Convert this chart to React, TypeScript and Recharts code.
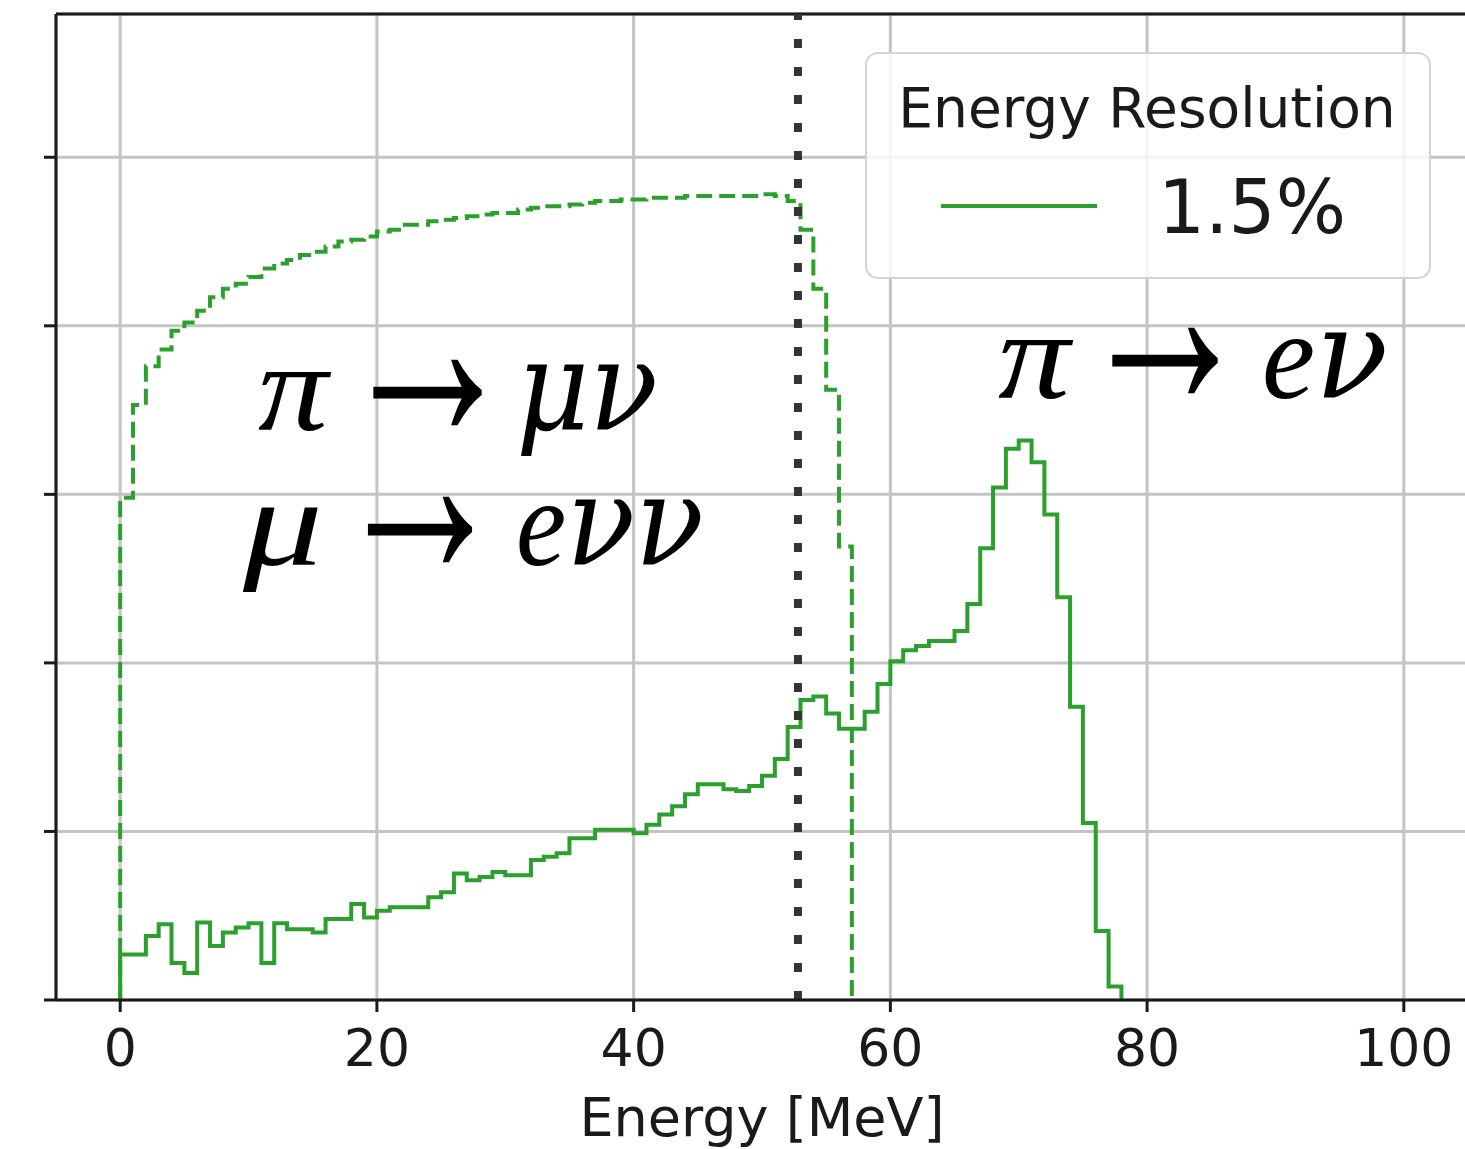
import { ComposedChart, Line, XAxis, YAxis, CartesianGrid, ReferenceLine } from 'recharts';

// Histogram bins: 1 MeV wide, starting at 0 MeV. Heights in (unlabelled) y-axis units.
const BIN_WIDTH = 1;

// pi -> e nu with 1.5% energy resolution (solid)
const PI_E_NU = [
  0.27, 0.27, 0.38, 0.45, 0.22, 0.16, 0.46, 0.32, 0.40, 0.43,
  0.455, 0.22, 0.455, 0.42, 0.42, 0.40, 0.48, 0.48, 0.57, 0.49,
  0.53, 0.55, 0.55, 0.55, 0.61, 0.64, 0.75, 0.71, 0.73, 0.76,
  0.74, 0.74, 0.83, 0.85, 0.87, 0.96, 0.96, 1.01, 1.01, 1.01,
  0.99, 1.04, 1.10, 1.15, 1.22, 1.28, 1.28, 1.25, 1.24, 1.27,
  1.33, 1.43, 1.62, 1.78, 1.80, 1.70, 1.61, 1.61, 1.71, 1.875,
  2.01, 2.075, 2.10, 2.13, 2.13, 2.19, 2.35, 2.68, 3.04, 3.27,
  3.32, 3.19, 2.88, 2.39, 1.74, 1.05, 0.41, 0.08,
];

// pi -> mu nu, mu -> e nu nu (dashed)
const PI_MU_NU = [
  2.98, 3.53, 3.76, 3.86, 3.97, 4.02, 4.09, 4.17, 4.22, 4.25,
  4.29, 4.34, 4.37, 4.39, 4.42, 4.44, 4.47, 4.50, 4.51, 4.53,
  4.56, 4.57, 4.60, 4.60, 4.62, 4.63, 4.64, 4.65, 4.66, 4.67,
  4.67, 4.69, 4.70, 4.71, 4.71, 4.72, 4.73, 4.74, 4.74, 4.75,
  4.75, 4.76, 4.76, 4.76, 4.77, 4.77, 4.77, 4.77, 4.77, 4.77,
  4.78, 4.77, 4.74, 4.57, 4.22, 3.62, 2.69,
];

const X_TICKS = [0, 20, 40, 60, 80, 100];
const Y_TICKS = [0, 1, 2, 3, 4, 5];
const X_DOMAIN: [number, number] = [-5, 105];
const Y_MAX = 5.85;
const MICHEL_EDGE = 52.8; // MeV, dotted marker

const GREEN = '#2ca02c';
const INK = '#1a1a1a';

// histogram outline: rise at the first edge, fall at the last edge
function toSteps(counts: number[]) {
  const pts = [{ e: 0, v: 0 }];
  counts.forEach((v, i) => pts.push({ e: i * BIN_WIDTH, v }));
  pts.push({ e: counts.length * BIN_WIDTH, v: 0 });
  return pts;
}

const solidSteps = toSteps(PI_E_NU);
const dashedSteps = toSteps(PI_MU_NU);

const SERIF = 'Liberation Serif';
const NU_FONT = 'DejaVu Serif';

export default function App() {
  return (
    <div style={{ position: 'absolute', left: 0, top: 0, width: 1465, height: 1149, overflow: 'hidden', background: '#fff' }}>
      <ComposedChart width={1470} height={1149} margin={{ top: 14, right: 2, bottom: 0, left: 0 }}>
        <CartesianGrid stroke="#c4c4c4" strokeWidth={3} />
        <XAxis
          dataKey="e"
          type="number"
          domain={X_DOMAIN}
          ticks={X_TICKS}
          allowDataOverflow
          height={149}
          tickSize={12}
          tickMargin={17}
          axisLine={{ stroke: INK, strokeWidth: 3 }}
          tickLine={{ stroke: INK, strokeWidth: 3 }}
          tick={{ fontSize: 52, fill: INK, fontFamily: 'DejaVu Sans' }}
        />
        <YAxis
          type="number"
          domain={[0, Y_MAX]}
          ticks={Y_TICKS}
          allowDataOverflow
          width={56}
          tickSize={12}
          tickFormatter={() => ''}
          axisLine={{ stroke: INK, strokeWidth: 3 }}
          tickLine={{ stroke: INK, strokeWidth: 3 }}
        />
        <ReferenceLine y={Y_MAX} stroke={INK} strokeWidth={3} />
        <Line data={dashedSteps} dataKey="v" type="stepAfter" stroke={GREEN} strokeWidth={4}
          strokeDasharray="16 7" dot={false} activeDot={false} isAnimationActive={false} />
        <Line data={solidSteps} dataKey="v" type="stepAfter" stroke={GREEN} strokeWidth={4}
          dot={false} activeDot={false} isAnimationActive={false} />
        <ReferenceLine x={MICHEL_EDGE} stroke="#333" strokeWidth={8} strokeDasharray="9 19" />
      </ComposedChart>

      <svg width={1465} height={1149} style={{ position: 'absolute', left: 0, top: 0, pointerEvents: 'none' }}>
        {/* legend */}
        <rect x={866} y={53} width={564} height={225} rx={12} fill="#fff" fillOpacity={0.8} stroke="#d4d4d4" strokeWidth={2} />
        <text x={1147} y={127} textAnchor="middle" fontSize={55} fontFamily="DejaVu Sans" fill={INK}>Energy Resolution</text>
        <line x1={941} x2={1097} y1={206} y2={206} stroke={GREEN} strokeWidth={4} />
        <text x={1158} y={233} fontSize={74} fontFamily="DejaVu Sans" fill={INK}>1.5%</text>

        {/* axis title */}
        <text x={762} y={1136} textAnchor="middle" fontSize={54} fontFamily="DejaVu Sans" fill={INK}>Energy [MeV]</text>

        {/* decay annotations */}
        <g fontFamily={SERIF} fontSize={125} fill="#000">
          <text x={258} y={430} fontStyle="italic" textLength={70} lengthAdjust="spacingAndGlyphs">π</text>
          <text x={336} y={439} fontSize={280} textLength={183} lengthAdjust="spacingAndGlyphs">→</text>
          <text x={516} y={430} fontFamily={NU_FONT} fontStyle="italic" textLength={142} lengthAdjust="spacingAndGlyphs">μν</text>

          <text x={243} y={565} fontStyle="italic" textLength={80} lengthAdjust="spacingAndGlyphs">μ</text>
          <text x={332} y={576} fontSize={280} textLength={176} lengthAdjust="spacingAndGlyphs">→</text>
          <text x={516} y={565} fontStyle="italic" textLength={188} lengthAdjust="spacingAndGlyphs">
            e<tspan fontFamily={NU_FONT}>νν</tspan>
          </text>

          <text x={998} y={398} fontStyle="italic" textLength={72} lengthAdjust="spacingAndGlyphs">π</text>
          <text x={1076} y={407} fontSize={280} textLength={178} lengthAdjust="spacingAndGlyphs">→</text>
          <text x={1262} y={398} fontStyle="italic" textLength={126} lengthAdjust="spacingAndGlyphs">
            e<tspan fontFamily={NU_FONT}>ν</tspan>
          </text>
        </g>
      </svg>
    </div>
  );
}
